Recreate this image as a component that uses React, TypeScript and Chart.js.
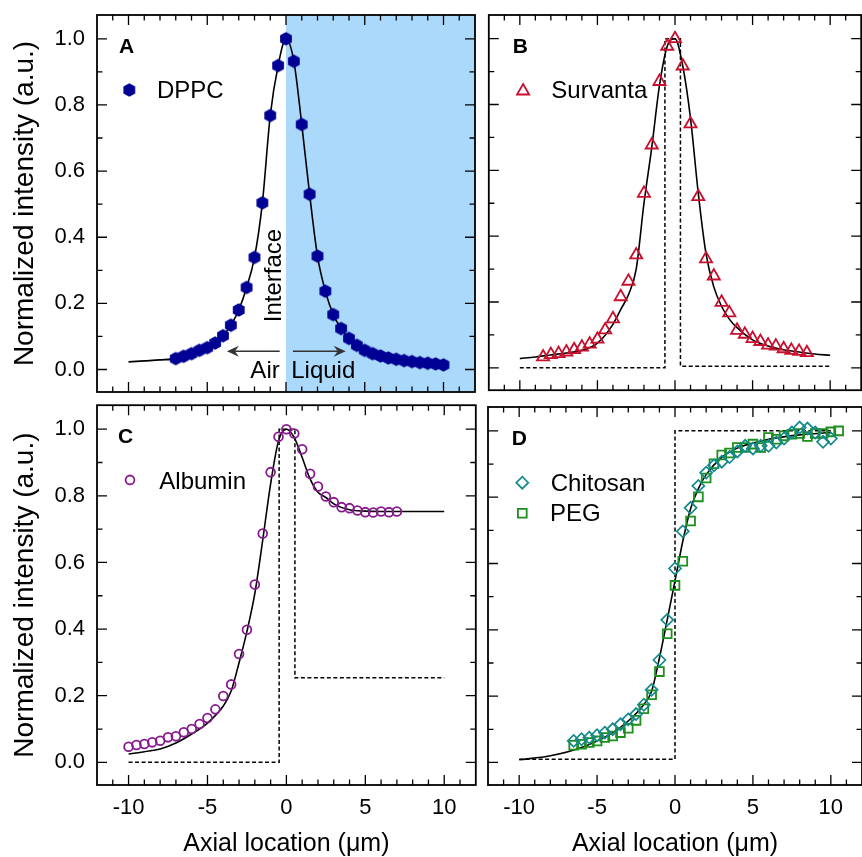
import React, { useEffect, useRef } from 'react';
import { Chart, registerables } from 'chart.js';

Chart.register(...registerables);

const FONT = "'Liberation Sans', Arial, Helvetica, sans-serif";

// ---------------- axes ----------------
const xTickValues = [-10, -5, 0, 5, 10];
const yTickValues = [0, 0.2, 0.4, 0.6, 0.8, 1.0];
const xMin = -12;
const xMax = 12;
const yMin = -0.068;
const yMax = 1.072;
const xTitle = 'Axial location (\u03bcm)';
const yTitle = 'Normalized intensity (a.u.)';

// ---------------- panel A : DPPC ----------------
const dppcX = [-7, -6.5, -6, -5.5, -5, -4.5, -4, -3.5, -3, -2.5, -2, -1.5, -1, -0.5, 0, 0.5, 1, 1.5, 2, 2.5, 3, 3.5, 4, 4.5, 5, 5.5, 6, 6.5, 7, 7.5, 8, 8.5, 9, 9.5, 10];
const dppcY = [0.033, 0.040, 0.048, 0.058, 0.066, 0.080, 0.102, 0.134, 0.180, 0.248, 0.339, 0.504, 0.768, 0.919, 1.0, 0.932, 0.741, 0.530, 0.343, 0.237, 0.166, 0.124, 0.094, 0.073, 0.058, 0.048, 0.041, 0.035, 0.031, 0.027, 0.024, 0.021, 0.019, 0.017, 0.014];
const fitAX = [-10, -9, -8, -7, -6, -5, -4.5, -4, -3.5, -3, -2.5, -2, -1.5, -1, -0.5, 0, 0.5, 1, 1.5, 2, 2.5, 3, 3.5, 4, 4.5, 5, 6, 7, 8, 9, 10];
const fitAY = [0.023, 0.026, 0.029, 0.033, 0.048, 0.066, 0.080, 0.102, 0.134, 0.180, 0.248, 0.339, 0.504, 0.768, 0.919, 1.0, 0.932, 0.741, 0.530, 0.343, 0.237, 0.166, 0.124, 0.094, 0.073, 0.058, 0.041, 0.031, 0.024, 0.019, 0.014];

// ---------------- panel B : Survanta ----------------
const survX = [-8.5, -8, -7.5, -7, -6.5, -6, -5.5, -5, -4.5, -4, -3.5, -3, -2.5, -2, -1.5, -1, -0.5, 0, 0.5, 1, 1.5, 2, 2.5, 3, 3.5, 4, 4.5, 5, 5.5, 6, 6.5, 7, 7.5, 8, 8.5];
const survY = [0.033, 0.040, 0.043, 0.048, 0.055, 0.063, 0.072, 0.087, 0.115, 0.149, 0.216, 0.263, 0.343, 0.530, 0.677, 0.870, 0.977, 1.0, 0.917, 0.741, 0.520, 0.331, 0.279, 0.199, 0.167, 0.114, 0.102, 0.089, 0.080, 0.069, 0.066, 0.058, 0.053, 0.050, 0.046];
const fitBX = [-10, -9, -8, -7, -6, -5, -4, -3.5, -3, -2.5, -2, -1.5, -1, -0.5, 0, 0.5, 1, 1.5, 2, 2.5, 3, 3.5, 4, 5, 6, 7, 8, 9, 10];
const fitBY = [0.028, 0.033, 0.039, 0.045, 0.053, 0.075, 0.132, 0.177, 0.222, 0.30, 0.50, 0.669, 0.858, 0.977, 1.0, 0.917, 0.758, 0.53, 0.346, 0.246, 0.187, 0.148, 0.122, 0.085, 0.066, 0.055, 0.048, 0.042, 0.038];
const stepBX = [-10, -0.65, -0.65, 0.35, 0.35, 10];
const stepBY = [0, 0, 1, 1, 0.005, 0.005];

// ---------------- panel C : Albumin ----------------
const albX = [-10, -9.5, -9, -8.5, -8, -7.5, -7, -6.5, -6, -5.5, -5, -4.5, -4, -3.5, -3, -2.5, -2, -1.5, -1, -0.5, 0, 0.5, 1, 1.5, 2, 2.5, 3, 3.5, 4, 4.5, 5, 5.5, 6, 6.5, 7];
const albY = [0.047, 0.052, 0.055, 0.060, 0.065, 0.075, 0.078, 0.090, 0.100, 0.115, 0.133, 0.159, 0.199, 0.234, 0.325, 0.398, 0.534, 0.687, 0.871, 0.977, 1.0, 0.987, 0.940, 0.866, 0.828, 0.798, 0.781, 0.766, 0.763, 0.756, 0.751, 0.750, 0.753, 0.751, 0.753];
const fitCX = [-10, -9, -8, -7, -6, -5, -4, -3.5, -3, -2.5, -2, -1.5, -1, -0.5, 0, 0.5, 1, 1.5, 2, 2.5, 3, 4, 5, 6, 7, 8, 10];
const fitCY = [0.025, 0.032, 0.040, 0.058, 0.085, 0.118, 0.169, 0.214, 0.299, 0.393, 0.507, 0.667, 0.836, 0.965, 1.0, 0.975, 0.915, 0.851, 0.811, 0.795, 0.776, 0.758, 0.754, 0.753, 0.753, 0.753, 0.753];
const stepCX = [-10, -0.46, -0.46, 0.54, 0.54, 10];
const stepCY = [0, 0, 1, 1, 0.254, 0.254];

// ---------------- panel D : Chitosan / PEG ----------------
const chitX = [-6.5, -6, -5.5, -5, -4.5, -4, -3.5, -3, -2.5, -2, -1.5, -1, -0.5, 0, 0.5, 1, 1.5, 2, 2.5, 3, 3.5, 4, 4.5, 5, 5.5, 6, 6.5, 7, 7.5, 8, 8.5, 9, 9.5, 10];
const chitY = [0.065, 0.070, 0.075, 0.082, 0.090, 0.100, 0.115, 0.130, 0.146, 0.174, 0.219, 0.309, 0.430, 0.585, 0.697, 0.768, 0.834, 0.874, 0.896, 0.907, 0.921, 0.938, 0.955, 0.947, 0.955, 0.955, 0.965, 0.977, 0.995, 1.010, 1.007, 0.995, 0.967, 0.977];
const pegX = [-6.5, -6, -5.5, -5, -4.5, -4, -3.5, -3, -2.5, -2, -1.5, -1, -0.5, 0, 0.5, 1, 1.5, 2, 2.5, 3, 3.5, 4, 4.5, 5, 5.5, 6, 6.5, 7, 7.5, 8, 8.5, 9, 9.5, 10, 10.5];
const pegY = [0.052, 0.055, 0.060, 0.065, 0.075, 0.080, 0.090, 0.103, 0.127, 0.162, 0.204, 0.274, 0.388, 0.534, 0.607, 0.728, 0.801, 0.858, 0.901, 0.927, 0.933, 0.950, 0.950, 0.960, 0.950, 0.980, 0.975, 0.985, 0.990, 0.992, 0.983, 0.992, 0.992, 0.997, 1.0];
const fitDX = [-10, -8, -6, -4, -3, -2, -1.5, -1, -0.5, 0, 0.5, 1, 1.5, 2, 3, 4, 5, 6, 8, 10];
const fitDY = [0.008, 0.020, 0.045, 0.090, 0.125, 0.175, 0.215, 0.315, 0.43, 0.548, 0.667, 0.765, 0.826, 0.868, 0.92, 0.948, 0.963, 0.975, 0.988, 0.995];
const stepDX = [-10, 0, 0, 10];
const stepDY = [0.01, 0.01, 1, 1];

// ---------------- colours ----------------
const C_DPPC = '#000094';
const C_SURV = '#c8102e';
const C_ALB = '#861a8e';
const C_CHIT = '#148a8c';
const C_PEG = '#1d8f1d';
const C_SHADE = 'rgb(170, 217, 251)';

// ---------------- helpers ----------------
let hexImg: HTMLCanvasElement | null = null;
function getHex(): HTMLCanvasElement {
  if (hexImg) return hexImg;
  const r = 6.8;
  const size = 16;
  const c = document.createElement('canvas');
  c.width = size;
  c.height = size;
  const g = c.getContext('2d')!;
  g.fillStyle = C_DPPC;
  g.beginPath();
  for (let i = 0; i < 6; i++) {
    const a = -Math.PI / 2 + (i * Math.PI) / 3;
    const px = size / 2 + r * Math.cos(a);
    const py = size / 2 + r * Math.sin(a);
    if (i === 0) g.moveTo(px, py);
    else g.lineTo(px, py);
  }
  g.closePath();
  g.fill();
  hexImg = c;
  return c;
}

const pts = (xs: number[], ys: number[]) => xs.map((x, i) => ({ x, y: ys[i] }));

const fitLine = (xs: number[], ys: number[]) => ({
  data: pts(xs, ys),
  showLine: true,
  pointRadius: 0,
  borderColor: '#000',
  borderWidth: 1.6,
  cubicInterpolationMode: 'monotone',
  fill: false,
});

const stepLine = (xs: number[], ys: number[]) => ({
  data: pts(xs, ys),
  showLine: true,
  pointRadius: 0,
  borderColor: '#000',
  borderWidth: 1.5,
  borderDash: [4, 2.5],
  tension: 0,
  fill: false,
});

const markers = (xs: number[], ys: number[], style: any, color: string, r: number, lw: number) => ({
  data: pts(xs, ys),
  showLine: false,
  pointStyle: style,
  pointRadius: r,
  borderColor: color,
  backgroundColor: 'rgba(0,0,0,0)',
  pointBorderColor: color,
  pointBackgroundColor: 'rgba(0,0,0,0)',
  pointBorderWidth: lw,
});

function drawMarker(ctx: CanvasRenderingContext2D, m: any, x: number, y: number) {
  ctx.save();
  ctx.strokeStyle = m.color;
  ctx.lineWidth = m.lw;
  ctx.beginPath();
  const r = m.r;
  if (m.style === 'hex') {
    const img = getHex();
    ctx.drawImage(img, x - img.width / 2, y - img.height / 2);
    ctx.restore();
    return;
  } else if (m.style === 'triangle') {
    const a = (2 * Math.PI) / 3;
    ctx.moveTo(x, y - r);
    ctx.lineTo(x + Math.sin(a) * r, y - Math.cos(a) * r);
    ctx.lineTo(x + Math.sin(2 * a) * r, y - Math.cos(2 * a) * r);
    ctx.closePath();
  } else if (m.style === 'circle') {
    ctx.arc(x, y, r, 0, Math.PI * 2);
  } else if (m.style === 'rectRot') {
    ctx.moveTo(x - r, y);
    ctx.lineTo(x, y - r);
    ctx.lineTo(x + r, y);
    ctx.lineTo(x, y + r);
    ctx.closePath();
  } else if (m.style === 'rect') {
    const s = r * Math.SQRT1_2;
    ctx.rect(x - s, y - s, 2 * s, 2 * s);
  }
  ctx.stroke();
  ctx.restore();
}

function drawArrow(ctx: CanvasRenderingContext2D, x1: number, y1: number, x2: number, y2: number) {
  const dir = Math.sign(x2 - x1);
  ctx.save();
  ctx.strokeStyle = '#333';
  ctx.fillStyle = '#333';
  ctx.lineWidth = 1.5;
  ctx.beginPath();
  ctx.moveTo(x1, y1);
  ctx.lineTo(x2 - dir * 6, y2);
  ctx.stroke();
  ctx.beginPath();
  ctx.moveTo(x2, y2);
  ctx.lineTo(x2 - dir * 12, y2 - 5.5);
  ctx.lineTo(x2 - dir * 8, y2);
  ctx.lineTo(x2 - dir * 12, y2 + 5.5);
  ctx.closePath();
  ctx.fill();
  ctx.restore();
}

const framePlugin = {
  id: 'frame',
  beforeDatasetsDraw(chart: any, _a: any, o: any) {
    if (o.shadeFrom === undefined || o.shadeFrom === null) return;
    const { ctx, chartArea: ca } = chart;
    const x0 = chart.scales.x.getPixelForValue(o.shadeFrom);
    ctx.save();
    ctx.fillStyle = C_SHADE;
    ctx.fillRect(x0, ca.top, ca.right - x0, ca.bottom - ca.top);
    ctx.restore();
  },
  afterDraw(chart: any, _a: any, o: any) {
    const { ctx, chartArea: ca } = chart;
    const sx = chart.scales.x;
    const sy = chart.scales.y;
    ctx.save();

    // annotations (data coordinates)
    ctx.fillStyle = '#000';
    ctx.font = `24px ${FONT}`;
    (o.texts || []).forEach((t: any) => {
      const px = sx.getPixelForValue(t.x);
      const py = sy.getPixelForValue(t.y);
      ctx.save();
      ctx.translate(px, py);
      if (t.rotate) ctx.rotate(-Math.PI / 2);
      ctx.textAlign = t.align;
      ctx.textBaseline = 'alphabetic';
      ctx.fillText(t.text, 0, 0);
      ctx.restore();
    });
    (o.arrows || []).forEach((a: any) => {
      drawArrow(ctx, sx.getPixelForValue(a.x1), sy.getPixelForValue(a.y1), sx.getPixelForValue(a.x2), sy.getPixelForValue(a.y2));
    });

    // inside tick marks on all four sides
    ctx.strokeStyle = '#000';
    ctx.lineWidth = 1.3;
    ctx.beginPath();
    for (let i = Math.ceil(xMin + 0.5); i <= Math.floor(xMax - 0.5); i++) {
      const px = sx.getPixelForValue(i);
      const len = i % 5 === 0 ? 10 : 5.5;
      ctx.moveTo(px, ca.bottom);
      ctx.lineTo(px, ca.bottom - len);
      ctx.moveTo(px, ca.top);
      ctx.lineTo(px, ca.top + len);
    }
    for (let j = 0; j <= 10; j++) {
      const py = sy.getPixelForValue(j / 10);
      const len = j % 2 === 0 ? 10 : 5.5;
      ctx.moveTo(ca.left, py);
      ctx.lineTo(ca.left + len, py);
      ctx.moveTo(ca.right, py);
      ctx.lineTo(ca.right - len, py);
    }
    ctx.stroke();

    // frame
    ctx.lineWidth = 1.8;
    ctx.strokeRect(ca.left, ca.top, ca.right - ca.left, ca.bottom - ca.top);

    // panel letter
    ctx.fillStyle = '#000';
    ctx.textAlign = 'left';
    ctx.textBaseline = 'alphabetic';
    ctx.font = `bold 21px ${FONT}`;
    ctx.fillText(o.letter, ca.left + o.letterDx, ca.top + o.letterDy);

    // legend
    ctx.font = `24px ${FONT}`;
    (o.legend || []).forEach((it: any) => {
      drawMarker(ctx, it, ca.left + it.mx, ca.top + it.my);
      ctx.fillStyle = '#000';
      ctx.fillText(it.label, ca.left + it.tx, ca.top + it.ty);
    });
    ctx.restore();
  },
};

function buildConfig(spec: any) {
  const tickFont = { family: FONT, size: 22, lineHeight: 1 };
  const xTitleFont = { family: FONT, size: 25, lineHeight: 1 };
  const yTitleFont = { family: FONT, size: 28, lineHeight: 1 };
  return {
    type: 'scatter',
    data: { datasets: spec.datasets() },
    options: {
      animation: false,
      responsive: false,
      devicePixelRatio: 1,
      events: [],
      layout: { padding: spec.padding },
      plugins: {
        legend: { display: false },
        tooltip: { enabled: false },
        frame: spec.frame,
      },
      scales: {
        x: {
          type: 'linear',
          min: xMin,
          max: xMax,
          display: spec.showX,
          afterBuildTicks: (s: any) => {
            s.ticks = xTickValues.map((v) => ({ value: v }));
          },
          afterFit: (s: any) => {
            if (spec.showX) s.height = 72;
            s.paddingLeft = 0;
            s.paddingRight = 0;
          },
          grid: { display: false, drawTicks: false, tickLength: 0 },
          border: { display: false },
          ticks: {
            padding: 12.3,
            font: tickFont,
            color: '#000',
            autoSkip: false,
            maxRotation: 0,
            callback: (v: any) => String(v),
          },
          title: { display: true, text: xTitle, font: xTitleFont, color: '#000', padding: { top: 0, bottom: 0.5 } },
        },
        y: {
          type: 'linear',
          min: yMin,
          max: yMax,
          display: spec.showY,
          afterBuildTicks: (s: any) => {
            s.ticks = yTickValues.map((v) => ({ value: v }));
          },
          afterFit: (s: any) => {
            if (spec.showY) s.width = 97;
            s.paddingTop = 0;
            s.paddingBottom = 0;
          },
          grid: { display: false, drawTicks: false, tickLength: 0 },
          border: { display: false },
          ticks: {
            padding: 12,
            font: tickFont,
            color: '#000',
            autoSkip: false,
            callback: (v: any) => Number(v).toFixed(1),
          },
          title: { display: true, text: yTitle, font: yTitleFont, color: '#000', padding: { top: 11, bottom: 0 } },
        },
      },
    },
    plugins: [framePlugin],
  };
}

const panelA = {
  left: 0, top: 0, w: 482, h: 399,
  padding: { left: 0, right: 3, top: 15, bottom: 2 },
  showX: false, showY: true,
  datasets: () => [markers(dppcX, dppcY, getHex(), C_DPPC, 6, 1), fitLine(fitAX, fitAY)],
  frame: {
    letter: 'A', letterDx: 22, letterDy: 38.3, shadeFrom: 0,
    legend: [{ label: 'DPPC', style: 'hex', color: C_DPPC, r: 6, lw: 1, mx: 32.3, my: 75, tx: 60, ty: 83.3 }],
    texts: [
      { text: 'Interface', x: -0.33, y: 0.284, align: 'center', rotate: true },
      { text: 'Air', x: -0.4, y: -0.027, align: 'right' },
      { text: 'Liquid', x: 0.33, y: -0.027, align: 'left' },
    ],
    arrows: [
      { x1: -0.4, y1: 0.055, x2: -3.75, y2: 0.055 },
      { x1: 0.44, y1: 0.055, x2: 3.79, y2: 0.055 },
    ],
  },
};

const panelB = {
  left: 480, top: 0, w: 390, h: 399,
  padding: { left: 3, right: 3, top: 15, bottom: 2 },
  showX: false, showY: false,
  datasets: () => [markers(survX, survY, 'triangle', C_SURV, 7, 1.8), fitLine(fitBX, fitBY), stepLine(stepBX, stepBY)],
  frame: {
    letter: 'B', letterDx: 24, letterDy: 38.3,
    legend: [{ label: 'Survanta', style: 'triangle', color: C_SURV, r: 7, lw: 1.8, mx: 34.3, my: 76, tx: 62.5, ty: 83.3 }],
  },
};

const panelC = {
  left: 0, top: 399, w: 482, h: 458,
  padding: { left: 0, right: 3, top: 3, bottom: 0 },
  showX: true, showY: true,
  datasets: () => [markers(albX, albY, 'circle', C_ALB, 4.4, 1.8), fitLine(fitCX, fitCY), stepLine(stepCX, stepCY)],
  frame: {
    letter: 'C', letterDx: 21, letterDy: 38,
    legend: [{ label: 'Albumin', style: 'circle', color: C_ALB, r: 4.4, lw: 1.8, mx: 33, my: 74.7, tx: 62.3, ty: 83.7 }],
  },
};

const panelD = {
  left: 480, top: 399, w: 390, h: 458,
  padding: { left: 3, right: 3, top: 3, bottom: 0 },
  showX: true, showY: false,
  datasets: () => [
    markers(chitX, chitY, 'rectRot', C_CHIT, 6, 1.7),
    markers(pegX, pegY, 'rect', C_PEG, 6.2, 1.8),
    fitLine(fitDX, fitDY),
    stepLine(stepDX, stepDY),
  ],
  frame: {
    letter: 'D', letterDx: 23.7, letterDy: 38,
    legend: [
      { label: 'Chitosan', style: 'rectRot', color: C_CHIT, r: 6, lw: 1.7, mx: 34.3, my: 75.7, tx: 62.7, ty: 83.7 },
      { label: 'PEG', style: 'rect', color: C_PEG, r: 6.2, lw: 1.8, mx: 34.3, my: 106.3, tx: 62, ty: 114 },
    ],
  },
};

function Panel({ spec }: { spec: any }) {
  const ref = useRef<HTMLCanvasElement | null>(null);
  useEffect(() => {
    if (!ref.current) return;
    const chart = new Chart(ref.current, buildConfig(spec) as any);
    return () => chart.destroy();
  }, [spec]);
  return (
    <canvas
      ref={ref}
      width={spec.w}
      height={spec.h}
      style={{ position: 'absolute', left: spec.left, top: spec.top, width: spec.w, height: spec.h, display: 'block' }}
    />
  );
}

export default function App() {
  return (
    <div
      style={{
        position: 'fixed',
        left: 0,
        top: 0,
        width: 862,
        height: 857,
        overflow: 'hidden',
        background: '#fff',
      }}
    >
      <Panel spec={panelA} />
      <Panel spec={panelB} />
      <Panel spec={panelC} />
      <Panel spec={panelD} />
    </div>
  );
}
